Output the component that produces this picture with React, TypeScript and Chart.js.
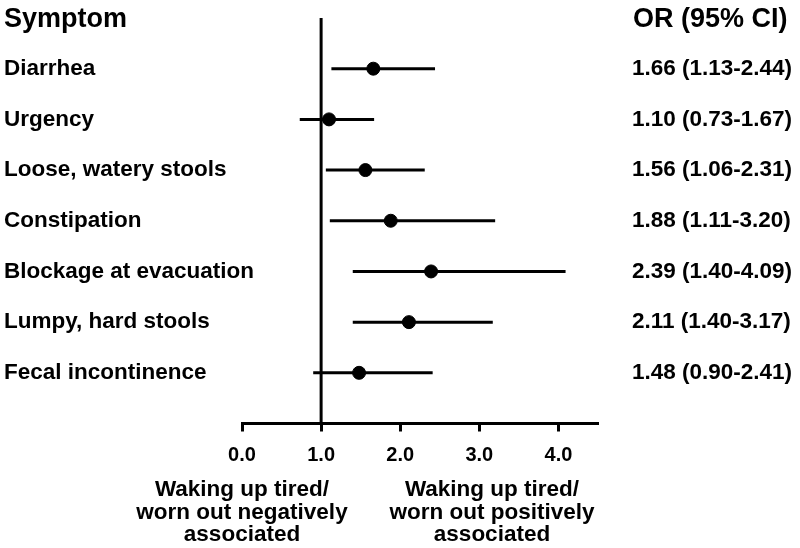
import React, { useEffect, useRef } from "react";
import { Chart, registerables } from "chart.js";

Chart.register(...registerables);

const symptoms = [
  "Diarrhea",
  "Urgency",
  "Loose, watery stools",
  "Constipation",
  "Blockage at evacuation",
  "Lumpy, hard stools",
  "Fecal incontinence",
];
const oddsRatios = [1.66, 1.1, 1.56, 1.88, 2.39, 2.11, 1.48];
const ciLow = [1.13, 0.73, 1.06, 1.11, 1.4, 1.4, 0.9];
const ciHigh = [2.44, 1.67, 2.31, 3.2, 4.09, 3.17, 2.41];
const leftHeader = "Symptom";
const rightHeader = "OR (95% CI)";
const xTickValues = [0, 1, 2, 3, 4];
const leftNote = ["Waking up tired/", "worn out negatively", "associated"];
const rightNote = ["Waking up tired/", "worn out positively", "associated"];

const FONT = "'Liberation Sans', Arial, Helvetica, sans-serif";

const orLabels = oddsRatios.map(
  (v, i) => `${v.toFixed(2)} (${ciLow[i].toFixed(2)}-${ciHigh[i].toFixed(2)})`
);

export default function App() {
  const ref = useRef<HTMLCanvasElement | null>(null);

  useEffect(() => {
    document.body.style.margin = "0";
    const canvas = ref.current;
    if (!canvas) return;

    const textPlugin = {
      id: "texts",
      afterDraw(chart: any) {
        const ctx = chart.ctx;
        const xs = chart.scales.x;
        const ys = chart.scales.y;
        ctx.save();
        ctx.fillStyle = "#000";
        ctx.textBaseline = "middle";
        ctx.textAlign = "left";

        // headers
        ctx.font = `bold 27px ${FONT}`;
        const hy = ys.getPixelForValue(0) + 2;
        ctx.fillText(leftHeader, 4, hy);
        ctx.fillText(rightHeader, 633, hy);

        // rows
        ctx.font = `bold 22.5px ${FONT}`;
        symptoms.forEach((s, i) => {
          const y = ys.getPixelForValue(i + 1);
          ctx.fillText(s, 4, y);
          ctx.fillText(orLabels[i], 632, y);
        });

        // bottom notes
        ctx.textAlign = "center";
        ctx.textBaseline = "alphabetic";
        const baseY = [496, 519, 541];
        const lx = xs.getPixelForValue(0);
        const rx = xs.getPixelForValue(3.16);
        leftNote.forEach((t, i) => ctx.fillText(t, lx, baseY[i]));
        rightNote.forEach((t, i) => ctx.fillText(t, rx, baseY[i]));
        ctx.restore();
      },
    };

    const ciDatasets = symptoms.map((s, i) => ({
      type: "line" as const,
      label: s + " CI",
      data: [
        { x: ciLow[i], y: i + 1 },
        { x: ciHigh[i], y: i + 1 },
      ],
      borderColor: "#000",
      borderWidth: 3,
      pointRadius: 0,
    }));

    const chart = new Chart(canvas, {
      type: "scatter",
      data: {
        datasets: [
          {
            type: "line",
            label: "ref",
            data: [
              { x: 1, y: 0 },
              { x: 1, y: 8 },
            ],
            borderColor: "#000",
            borderWidth: 3,
            pointRadius: 0,
          } as any,
          ...(ciDatasets as any[]),
          {
            type: "scatter",
            label: "OR",
            data: oddsRatios.map((v, i) => ({ x: v, y: i + 1 })),
            backgroundColor: "#000",
            borderColor: "#000",
            pointRadius: 6.5,
          } as any,
        ],
      },
      options: {
        animation: false,
        responsive: false,
        devicePixelRatio: 1,
        layout: { padding: { left: 242, right: 202, top: 18, bottom: 0 } },
        plugins: {
          legend: { display: false },
          tooltip: { enabled: false },
        },
        scales: {
          x: {
            type: "linear",
            min: 0,
            max: 4.5,
            afterBuildTicks: (scale: any) => {
              scale.ticks = xTickValues.map((v) => ({ value: v }));
            },
            afterFit: (scale: any) => {
              scale.height = 124.5;
            },
            ticks: {
              color: "#000",
              padding: 12,
              font: { family: FONT, size: 20, weight: "bold" },
              callback: (v: any) => Number(v).toFixed(1),
              maxRotation: 0,
              autoSkip: false,
            },
            grid: {
              display: true,
              drawOnChartArea: false,
              drawTicks: true,
              tickLength: 8,
              tickWidth: 3,
              tickColor: "#000",
            },
            border: { display: true, color: "#000", width: 3 },
          },
          y: {
            type: "linear",
            display: false,
            min: 0,
            max: 8,
            reverse: true,
          },
        },
      } as any,
      plugins: [textPlugin],
    });

    return () => chart.destroy();
  }, []);

  return (
    <div style={{ width: 800, height: 548 }}>
      <canvas ref={ref} width={800} height={548} style={{ display: "block" }} />
    </div>
  );
}
